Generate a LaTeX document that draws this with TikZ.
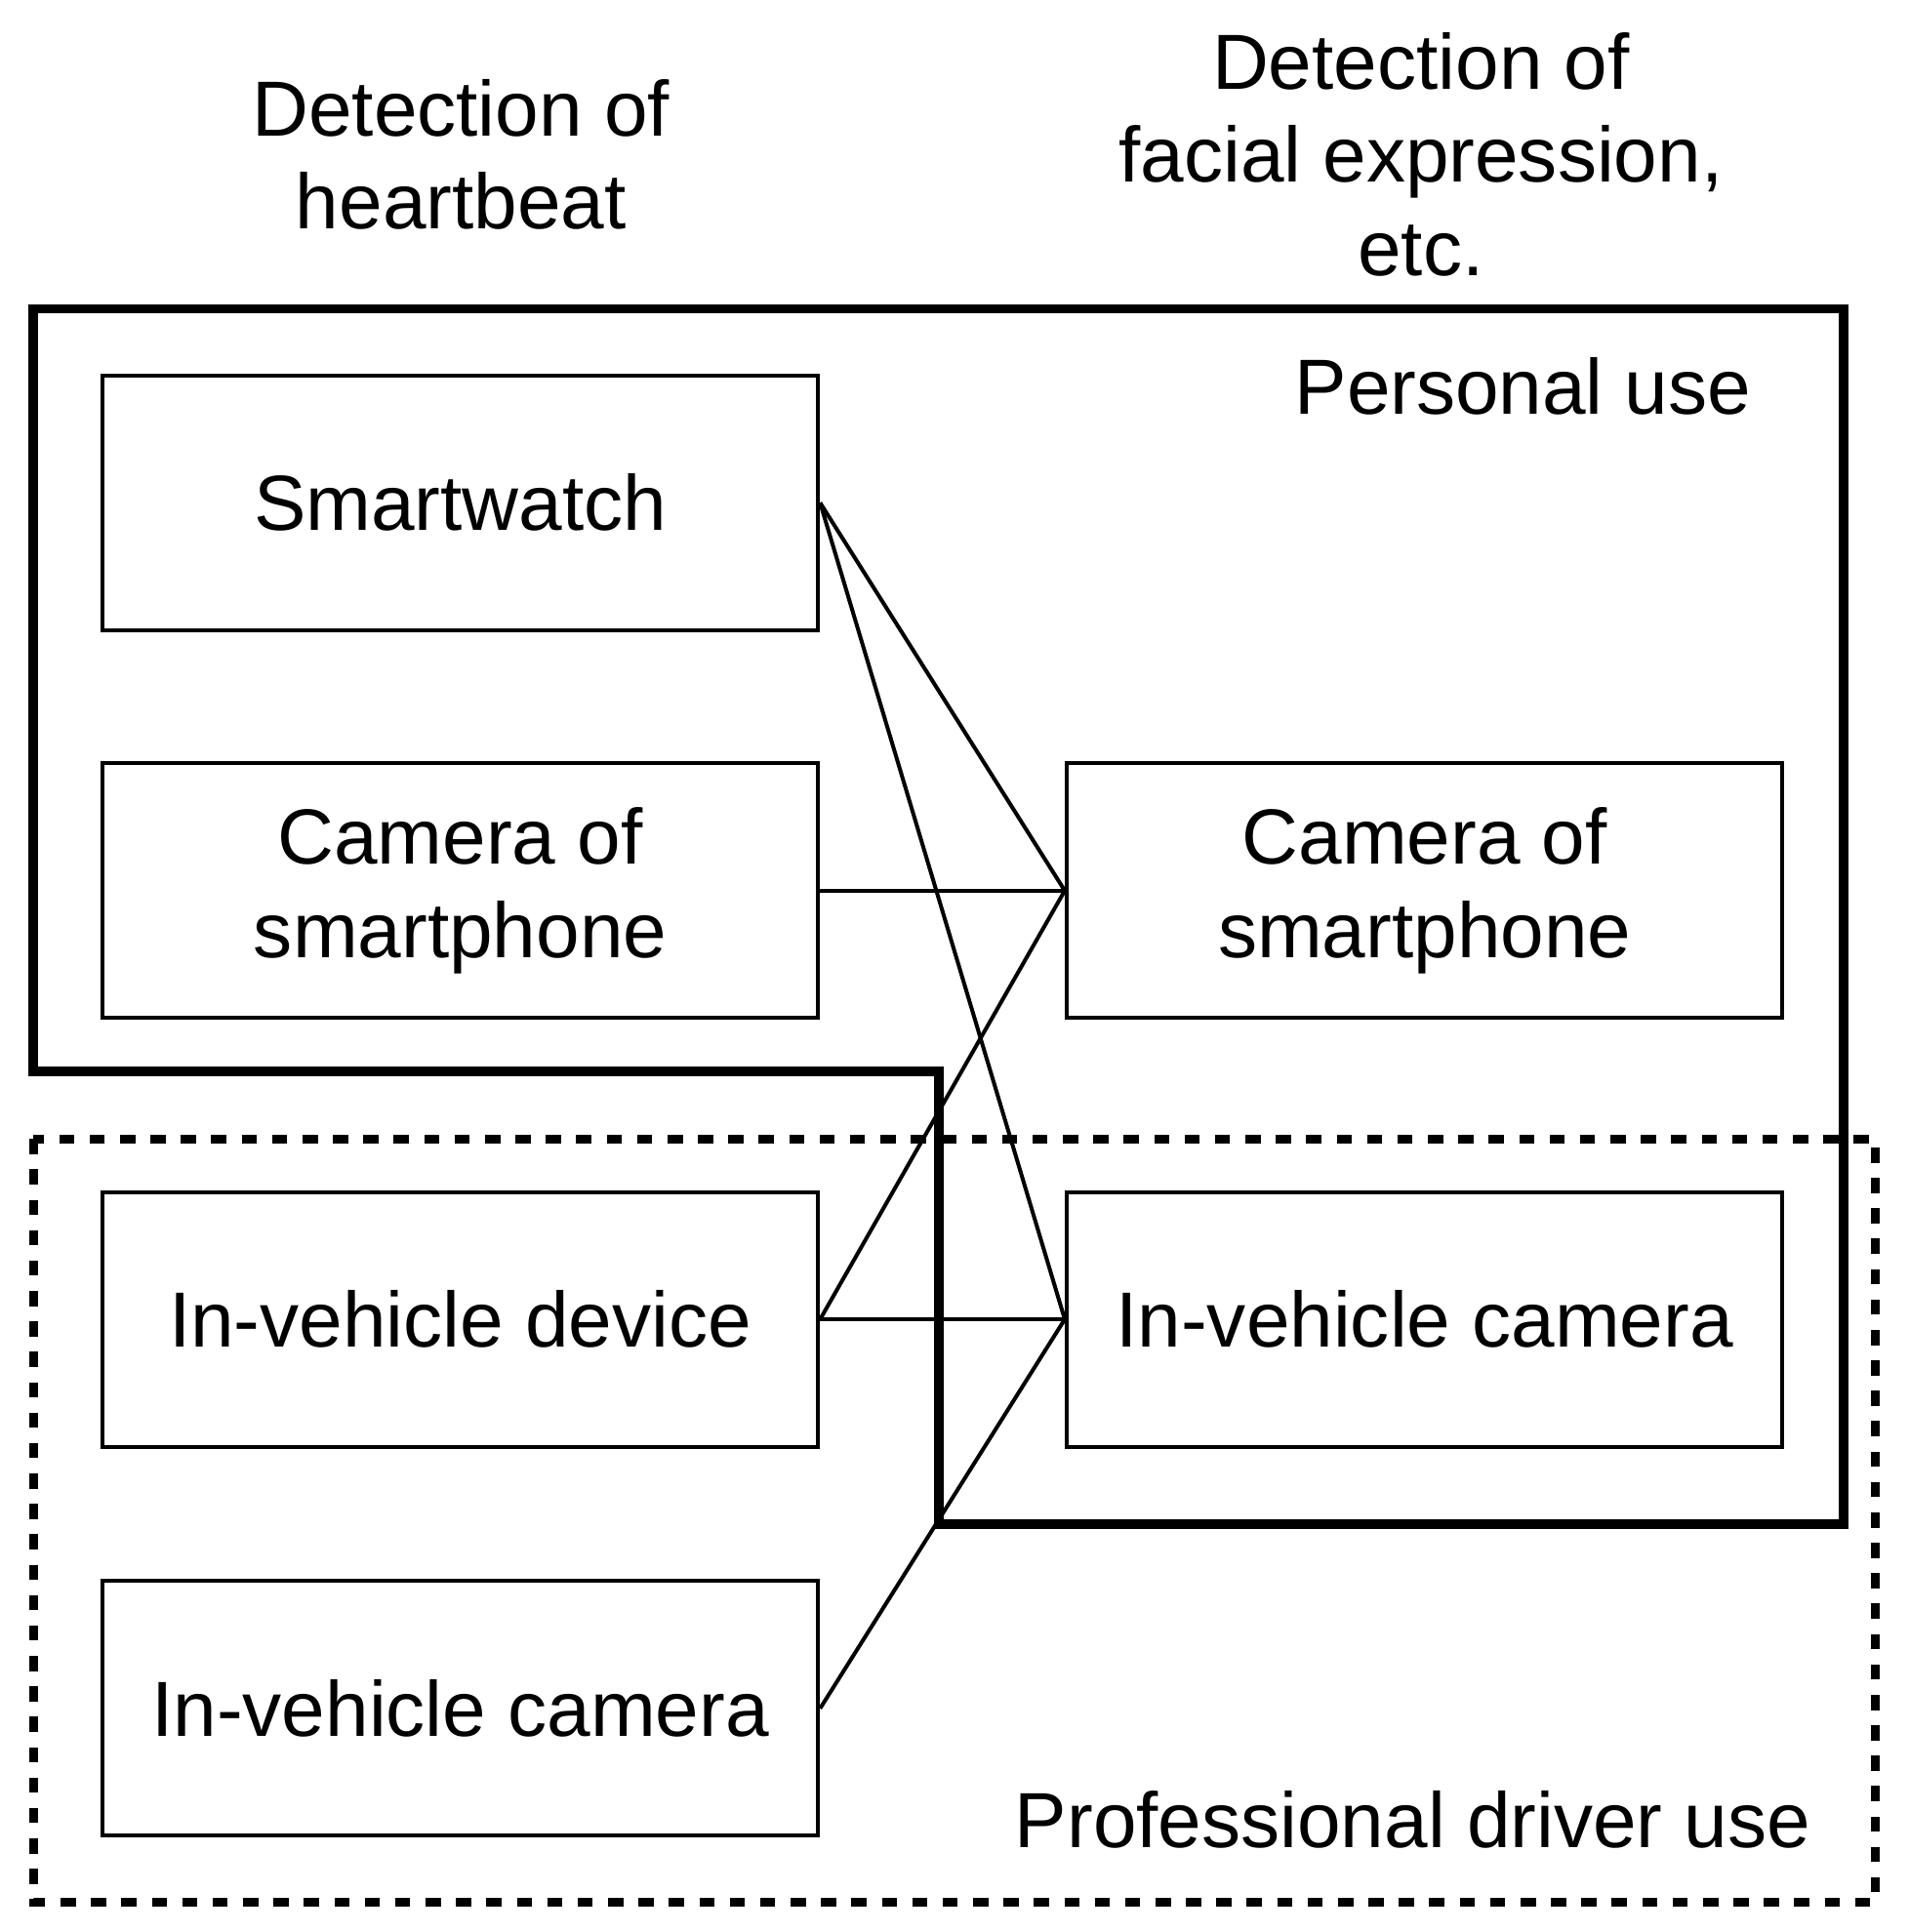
\documentclass[tikz,border=0pt]{standalone}
\usepackage{fontspec}
\setmainfont{Liberation Sans}
\begin{document}
\begin{tikzpicture}[x=0.01cm,y=-0.01cm,
  box/.style={draw,line width=0.9pt,minimum width=5.79cm,minimum height=2.06cm,align=center,inner sep=0pt,font=\fontsize{18}{21.5}\selectfont},
  lbl/.style={align=center,inner sep=0pt,font=\fontsize{18}{21.5}\selectfont},
  conn/.style={line width=0.9pt}]
\useasboundingbox (0,0) rectangle (1545,1564);
\node[lbl] (h) at (373,125) {Detection of\\heartbeat};
\node[lbl] (f) at (1150,125) {Detection of\\facial expression,\\etc.};
\node[box] (sw) at (372.5,407) {Smartwatch};
\node[box] (lc) at (372.5,721) {Camera of\\smartphone};
\node[box] (ld) at (372.5,1068) {In-vehicle device};
\node[box] (li) at (372.5,1383) {In-vehicle camera};
\node[box] (rc) at (1153,721) {Camera of\\smartphone};
\node[box] (ri) at (1153,1068) {In-vehicle camera};
\draw[line width=2.2pt] (27,250) -- (1492,250) -- (1492,1234) -- (760,1234) -- (760,867) -- (27,867) -- cycle;
\draw[line width=2pt,dash pattern=on 3.5pt off 3.5pt] (27,922) rectangle (1518,1540);
\node[lbl,anchor=east] (pu) at (1418,313) {Personal use};
\node[lbl,anchor=east] (pd) at (1466,1473) {Professional driver use};
\draw[conn] (sw.east) -- (rc.west);
\draw[conn] (sw.east) -- (ri.west);
\draw[conn] (lc.east) -- (rc.west);
\draw[conn] (ld.east) -- (rc.west);
\draw[conn] (ld.east) -- (ri.west);
\draw[conn] (li.east) -- (ri.west);
\end{tikzpicture}
\end{document}
